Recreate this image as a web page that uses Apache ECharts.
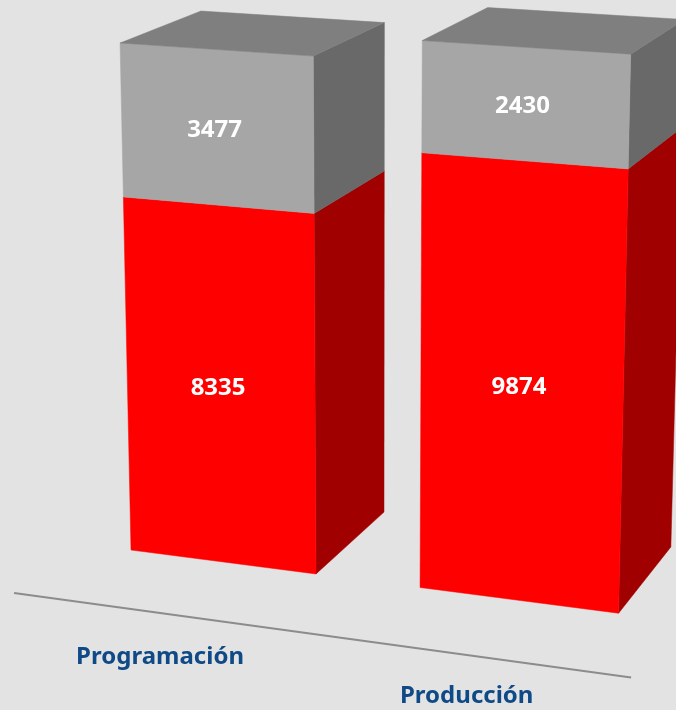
<!DOCTYPE html>
<html>
<head>
<meta charset="utf-8">
<style>
    html, body { margin: 0; padding: 0; background: #e3e3e3; }
    #chart { width: 676px; height: 710px; }
</style>
</head>
<body>
<div id="chart"></div>
<script src="https://cdn.jsdelivr.net/npm/echarts@6/dist/echarts.min.js"></script>
<script>
    const categories = ['Programación', 'Producción'];
    const redValues = [8335, 9874];
    const greyValues = [3477, 2430];

    const AXIS_MAX = 14000;
    const BAR_RATIO = 0.648;

    // vanishing points of the picture (width, height, depth directions)
    const VP_X = [-8034, -509];
    const VP_Y = [375, 11850];
    const VP_Z = [1498, -502];
    const ORIGIN = [131, 550];
    // perspective weight per grid pixel
    const K_X = -1.0116e-4;
    const K_Y = -7.168e-5;
    const K_Z = 0.05967;

    // category label placement, in bar widths and bar depths
    const LABEL_SHIFT = [0.222, 0.14];
    const LABEL_DEPTH = [-1.278, -1.227];

    // px, py: grid pixels measured from the front left foot of the first bar, z: bar depths
    function project(px, py, z) {
        const s = px * K_X;
        const t = py * K_Y;
        const r = z * K_Z;
        const w = 1 + s + t + r;
        return [
            (ORIGIN[0] + s * VP_X[0] + t * VP_Y[0] + r * VP_Z[0]) / w,
            (ORIGIN[1] + s * VP_X[1] + t * VP_Y[1] + r * VP_Z[1]) / w
        ];
    }

    function frame(api, index, value) {
        const band = api.size([1, 0])[0];
        const barWidth = band * BAR_RATIO;
        const first = api.coord([0, 0]);
        const pos = api.coord([index, value]);
        const left = first[0] - barWidth / 2;
        return {
            x0: pos[0] - barWidth / 2 - left,
            x1: pos[0] + barWidth / 2 - left,
            y: first[1] - pos[1]
        };
    }

    function polygon(points, fill) {
        return { type: 'polygon', shape: { points }, style: { fill, stroke: fill, lineWidth: 0.5 } };
    }

    function renderBlock(colors, withTop) {
        return (params, api) => {
            const index = api.value(0);
            const low = frame(api, index, api.value(1));
            const high = frame(api, index, api.value(2));
            const children = [
                polygon([
                    project(low.x1, low.y, 0), project(low.x1, low.y, 1),
                    project(high.x1, high.y, 1), project(high.x1, high.y, 0)
                ], colors.side),
                polygon([
                    project(low.x0, low.y, 0), project(low.x1, low.y, 0),
                    project(high.x1, high.y, 0), project(high.x0, high.y, 0)
                ], colors.front)
            ];
            if (withTop) {
                children.push(polygon([
                    project(high.x0, high.y, 0), project(high.x1, high.y, 0),
                    project(high.x1, high.y, 1), project(high.x0, high.y, 1)
                ], colors.top));
            }
            const mid = project((low.x0 + low.x1) / 2, (low.y + high.y) / 2, 0);
            children.push({
                type: 'text',
                style: {
                    text: String(api.value(2) - api.value(1)),
                    x: mid[0] - 2,
                    y: mid[1] + 2,
                    fill: '#fff',
                    font: 'bold 24px "Noto Sans"',
                    align: 'center',
                    verticalAlign: 'middle'
                }
            });
            return { type: 'group', children };
        };
    }

    function renderAxis(params, api) {
        const index = api.value(0);
        const foot = frame(api, index, 0);
        const width = foot.x1 - foot.x0;
        const children = [];
        if (index === 0) {
            const a = project(-0.278 * width, 0, -0.761);
            const b = project(2.81 * width, 0, -0.761);
            children.push({
                type: 'line',
                shape: { x1: a[0], y1: a[1], x2: b[0], y2: b[1] },
                style: { stroke: '#8c8c8c', lineWidth: 2 }
            });
        }
        const at = project((foot.x0 + foot.x1) / 2 + LABEL_SHIFT[index] * width, 0, LABEL_DEPTH[index]);
        children.push({
            type: 'text',
            style: {
                text: categories[index],
                x: at[0],
                y: at[1],
                fill: '#0f4a87',
                font: 'bold 24px "Noto Sans"',
                align: 'center',
                verticalAlign: 'middle'
            }
        });
        return { type: 'group', children };
    }

    const redData = categories.map((c, i) => [i, 0, redValues[i]]);
    const greyData = categories.map((c, i) => [i, redValues[i], redValues[i] + greyValues[i]]);

    const chart = echarts.init(document.getElementById('chart'));
    chart.setOption({
        backgroundColor: '#e3e3e3',
        animation: false,
        grid: { left: 0, right: 0, top: 0, bottom: 0 },
        xAxis: { type: 'category', data: categories, show: false },
        yAxis: { type: 'value', min: 0, max: AXIS_MAX, show: false },
        series: [
            {
                type: 'custom',
                coordinateSystem: 'cartesian2d',
                clip: false,
                data: categories.map((c, i) => [i]),
                encode: { x: 0 },
                renderItem: renderAxis
            },
            {
                type: 'custom',
                coordinateSystem: 'cartesian2d',
                clip: false,
                data: redData,
                encode: { x: 0, y: 2 },
                renderItem: renderBlock({ front: '#ff0000', side: '#a00000', top: '#a00000' }, false)
            },
            {
                type: 'custom',
                coordinateSystem: 'cartesian2d',
                clip: false,
                data: greyData,
                encode: { x: 0, y: 2 },
                renderItem: renderBlock({ front: '#a6a6a6', side: '#696969', top: '#7f7f7f' }, true)
            }
        ]
    });
</script>
</body>
</html>
